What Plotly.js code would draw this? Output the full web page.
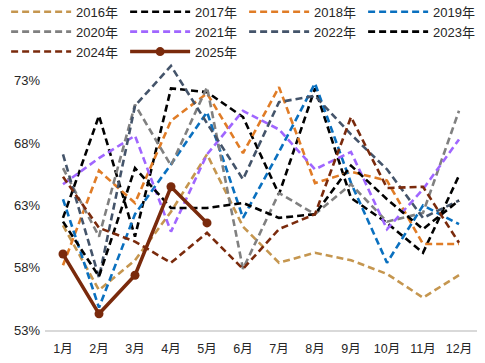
<!DOCTYPE html>
<html><head><meta charset="utf-8">
<script src="https://cdn.plot.ly/plotly-3.0.1.min.js"></script>
<style>html,body{margin:0;padding:0;background:#fff;}#chart{width:485px;height:363px;}</style>
</head><body><div id="chart"></div>
<script>
const months = ['1月','2月','3月','4月','5月','6月','7月','8月','9月','10月','11月','12月'];
const y2016 = [61.4, 56.2, 58.6, 62.5, 67.1, 61.3, 58.4, 59.2, 58.6, 57.5, 55.6, 57.4];
const y2017 = [62.0, 70.2, 60.5, 72.4, 72.1, 70.1, 63.9, 72.4, 63.6, 61.6, 59.2, 65.4];
const y2018 = [58.2, 65.8, 63.2, 69.8, 72.0, 67.2, 72.5, 64.8, 65.7, 65.0, 59.9, 59.9];
const y2019 = [63.5, 54.8, 62.3, 66.3, 70.5, 62.0, 67.3, 72.8, 64.8, 58.4, 63.0, 61.5];
const y2020 = [66.0, 60.5, 71.1, 66.2, 72.5, 57.9, 64.0, 62.3, 64.7, 61.7, 62.4, 70.6];
const y2021 = [64.7, 66.8, 68.6, 60.9, 67.1, 70.6, 69.1, 65.9, 67.3, 61.1, 64.3, 68.3];
const y2022 = [67.1, 57.2, 71.0, 74.2, 69.6, 65.1, 71.3, 71.8, 68.7, 65.9, 62.0, 63.4];
const y2023 = [61.7, 57.3, 66.0, 62.8, 62.8, 63.2, 62.0, 62.3, 66.2, 63.5, 61.1, 63.4];
const y2024 = [65.3, 61.2, 60.1, 58.4, 60.8, 57.9, 61.1, 62.3, 70.1, 64.4, 64.5, 60.0];
const y2025 = [59.1, 54.3, 57.4, 64.5, 61.6];
const seriesNames = ['2016年','2017年','2018年','2019年','2020年','2021年','2022年','2023年','2024年','2025年'];
const seriesColors = ['#C5964F','#000000','#E07C26','#0A70BF','#808080','#A066FF','#44546A','#000000','#7A2A0C','#7A2A0C'];
const yTicks = [53, 58, 63, 68, 73];
const yTickText = ['53%','58%','63%','68%','73%'];

const dashed = [y2016,y2017,y2018,y2019,y2020,y2021,y2022,y2023,y2024];
const traces = dashed.map((ys, i) => ({
  type: 'scatter', mode: 'lines', x: months.slice(0, ys.length), y: ys,
  name: seriesNames[i],
  line: {color: seriesColors[i], width: 2.6, dash: '7px,4px'},
  hoverinfo: 'skip'
}));
traces.push({
  type: 'scatter', mode: 'lines+markers', x: months.slice(0, y2025.length), y: y2025,
  name: seriesNames[9],
  line: {color: seriesColors[9], width: 3.5},
  marker: {color: seriesColors[9], size: 9},
  hoverinfo: 'skip'
});

const layout = {
  width: 485, height: 363,
  margin: {l: 45, r: 8, t: 56, b: 33, autoexpand: false},
  paper_bgcolor: '#fff', plot_bgcolor: '#fff',
  font: {family: '"Liberation Sans", Arial, "Noto Sans CJK SC", sans-serif', size: 13, color: '#262626'},
  showlegend: true,
  legend: {
    orientation: 'h', x: -0.09, xanchor: 'left', y: 1.216, yanchor: 'top',
    entrywidth: 44, entrywidthmode: 'pixels', traceorder: 'normal',
    font: {size: 13, color: '#262626'}, bgcolor: 'rgba(0,0,0,0)', itemwidth: 60
  },
  xaxis: {
    type: 'category', range: [-0.5, 11.5], showgrid: false, zeroline: false,
    showline: true, linecolor: '#D9D9D9', linewidth: 1.5, ticks: '',
    ticklabelstandoff: 6,
    tickfont: {size: 12.5, color: '#262626'}, fixedrange: true
  },
  yaxis: {
    range: [53, 75], tickvals: yTicks, ticktext: yTickText, showgrid: false,
    zeroline: false, showline: false, ticks: '', tickfont: {size: 13, color: '#262626'},
    ticklabelstandoff: 4,
    fixedrange: true
  }
};
Plotly.newPlot('chart', traces, layout, {staticPlot: true, displayModeBar: false});
</script></body></html>
